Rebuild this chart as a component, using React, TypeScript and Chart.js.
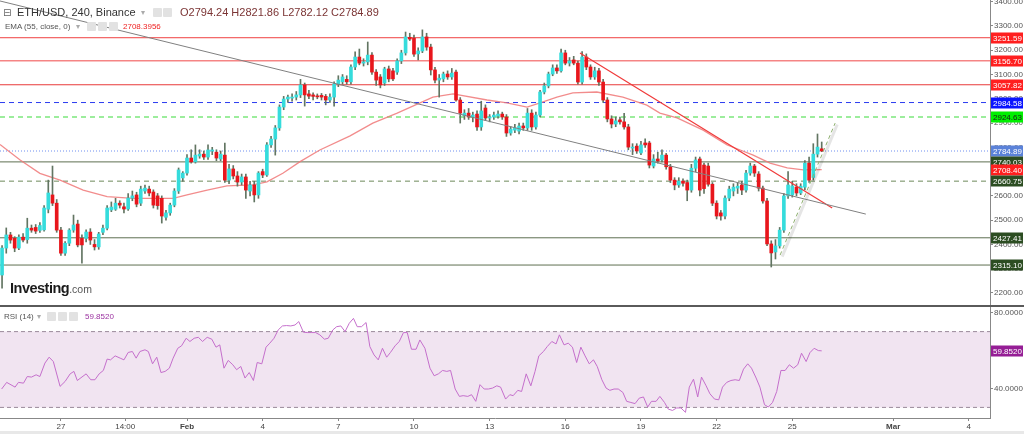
import React, { useEffect, useRef } from 'react';
import { Chart, registerables } from 'chart.js';

Chart.register(...registerables);

const FONT = '"Liberation Sans", Arial, sans-serif';

// ETH/USD 240 (4h) candles, index 0 = Jan 24 16:00, index 44 = Feb 1
const opens = [
  2274, 2385, 2439, 2425, 2385, 2430, 2420, 2467, 2470, 2458,
  2460, 2545, 2604, 2570, 2459, 2364, 2405, 2459, 2484, 2425,
  2425, 2451, 2400, 2390, 2450, 2467, 2542, 2545, 2570, 2555,
  2546, 2591, 2604, 2570, 2620, 2628, 2616, 2600, 2590, 2512,
  2530, 2562, 2620, 2674, 2694, 2756, 2740, 2764, 2772, 2760,
  2785, 2780, 2752, 2768, 2665, 2711, 2682, 2657, 2678, 2620,
  2645, 2604, 2700, 2686, 2810, 2834, 2880, 2966, 2999, 3003,
  3007, 3016, 3057, 3020, 3016, 3012, 3014, 3010, 2995, 3007,
  3061, 3070, 3080, 3070, 3131, 3172, 3147, 3152, 3180, 3110,
  3090, 3065, 3123, 3115, 3110, 3156, 3189, 3253, 3250, 3185,
  3197, 3255, 3213, 3119, 3077, 3082, 3102, 3090, 3110, 2995,
  2930, 2941, 2925, 2937, 2884, 2962, 2921, 2925, 2929, 2937,
  2925, 2859, 2871, 2867, 2888, 2880, 2941, 2884, 2933, 3028,
  3053, 3102, 3127, 3115, 3189, 3147, 3160, 3147, 3069, 3172,
  3131, 3090, 3115, 3069, 2995, 2917, 2896, 2913, 2905, 2884,
  2797, 2805, 2777, 2818, 2818, 2723, 2752, 2748, 2768, 2720,
  2665, 2645, 2661, 2655, 2624, 2714, 2752, 2727, 2723, 2648,
  2570, 2530, 2517, 2591, 2620, 2632, 2645, 2624, 2694, 2723,
  2690, 2632, 2579, 2402, 2369, 2394, 2459, 2600, 2604, 2636,
  2612, 2636, 2735, 2676, 2772, 2794,
];
const highs = [
  2395, 2468, 2450, 2432, 2440, 2445, 2508, 2480, 2482, 2490,
  2560, 2665, 2723, 2585, 2470, 2412, 2465, 2521, 2500, 2440,
  2460, 2465, 2420, 2450, 2480, 2560, 2575, 2590, 2580, 2570,
  2610, 2620, 2615, 2640, 2645, 2640, 2625, 2610, 2600, 2540,
  2570, 2630, 2715, 2700, 2770, 2790, 2810, 2790, 2785, 2810,
  2800, 2790, 2785, 2818, 2730, 2725, 2700, 2690, 2690, 2660,
  2660, 2700, 2710, 2820, 2845, 2890, 2975, 3010, 3015, 3020,
  3030, 3080, 3065, 3035, 3025, 3020, 3022, 3018, 3020, 3070,
  3095, 3100, 3095, 3140, 3193, 3205, 3165, 3234, 3190, 3120,
  3100, 3130, 3135, 3125, 3165, 3200, 3275, 3270, 3262, 3210,
  3284, 3270, 3225, 3130, 3100, 3110, 3115, 3125, 3118, 3005,
  2955, 2960, 2945, 2950, 2990, 2975, 2935, 2945, 2950, 2945,
  2935, 2885, 2895, 2900, 2900, 2960, 2955, 2945, 3035, 3065,
  3110, 3140, 3140, 3205, 3200, 3170, 3175, 3155, 3195, 3185,
  3140, 3130, 3125, 3080, 3005, 2930, 2925, 2925, 2940, 2895,
  2815, 2815, 2825, 2835, 2825, 2770, 2780, 2790, 2775, 2730,
  2675, 2675, 2670, 2665, 2730, 2760, 2760, 2735, 2735, 2655,
  2580, 2540, 2600, 2640, 2650, 2655, 2660, 2705, 2735, 2730,
  2700, 2640, 2590, 2415, 2420, 2470, 2610, 2700, 2660, 2650,
  2650, 2745, 2760, 2815, 2855, 2822,
];
const lows = [
  2220, 2364, 2405, 2370, 2378, 2410, 2405, 2450, 2445, 2450,
  2455, 2530, 2560, 2450, 2355, 2355, 2395, 2450, 2390, 2323,
  2410, 2400, 2377, 2380, 2440, 2460, 2535, 2540, 2550, 2530,
  2540, 2580, 2555, 2560, 2610, 2600, 2550, 2545, 2488, 2500,
  2520, 2555, 2610, 2660, 2685, 2735, 2735, 2755, 2750, 2750,
  2770, 2745, 2745, 2655, 2650, 2670, 2640, 2645, 2590, 2600,
  2575, 2590, 2675, 2680, 2800, 2768, 2870, 2955, 2985, 2990,
  2995, 3005, 2970, 3000, 2995, 3000, 2995, 2975, 2985, 2970,
  3050, 3060, 3060, 3060, 3120, 3140, 3135, 3140, 3100, 3055,
  3045, 3055, 3070, 3075, 3100, 3145, 3180, 3240, 3175, 3160,
  3190, 3200, 3098, 3065, 3007, 3070, 3080, 3080, 2990, 2900,
  2915, 2915, 2905, 2870, 2870, 2910, 2905, 2915, 2920, 2915,
  2845, 2850, 2860, 2855, 2870, 2870, 2870, 2875, 2925, 3020,
  3045, 3095, 3105, 3110, 3140, 3135, 3140, 3060, 3060, 3120,
  3080, 3080, 3055, 2985, 2905, 2880, 2885, 2895, 2875, 2790,
  2770, 2775, 2770, 2800, 2715, 2715, 2735, 2740, 2710, 2655,
  2625, 2635, 2640, 2580, 2615, 2700, 2600, 2610, 2640, 2560,
  2505, 2500, 2505, 2580, 2600, 2610, 2605, 2615, 2685, 2680,
  2620, 2570, 2395, 2307, 2340, 2385, 2450, 2590, 2595, 2600,
  2605, 2625, 2655, 2665, 2760, 2782,
];
const closes = [
  2385, 2439, 2418, 2385, 2430, 2418, 2467, 2459, 2455, 2478,
  2550, 2612, 2570, 2459, 2364, 2405, 2459, 2480, 2398, 2398,
  2451, 2418, 2390, 2443, 2467, 2550, 2554, 2570, 2562, 2546,
  2591, 2600, 2566, 2628, 2632, 2612, 2562, 2560, 2517, 2530,
  2562, 2620, 2707, 2694, 2756, 2740, 2768, 2772, 2760, 2789,
  2789, 2756, 2772, 2665, 2711, 2682, 2657, 2678, 2624, 2645,
  2604, 2694, 2686, 2810, 2834, 2880, 2966, 2999, 3007, 3007,
  3016, 3057, 3016, 3011, 3010, 3008, 3007, 2995, 3007, 3061,
  3077, 3090, 3070, 3131, 3172, 3147, 3152, 3180, 3110, 3077,
  3057, 3123, 3082, 3082, 3156, 3189, 3255, 3246, 3184, 3197,
  3255, 3213, 3119, 3077, 3085, 3102, 3090, 3106, 2995, 2941,
  2941, 2925, 2933, 2884, 2950, 2921, 2925, 2933, 2937, 2925,
  2859, 2875, 2880, 2888, 2880, 2941, 2884, 2933, 3028, 3053,
  3102, 3127, 3115, 3189, 3147, 3156, 3147, 3069, 3172, 3131,
  3090, 3115, 3069, 2995, 2917, 2896, 2909, 2905, 2884, 2801,
  2801, 2785, 2810, 2810, 2727, 2752, 2744, 2768, 2720, 2665,
  2645, 2661, 2652, 2624, 2714, 2748, 2624, 2630, 2648, 2570,
  2517, 2517, 2591, 2628, 2636, 2640, 2624, 2694, 2723, 2694,
  2632, 2579, 2402, 2365, 2394, 2459, 2600, 2645, 2641, 2612,
  2640, 2735, 2665, 2772, 2801, 2785,
];

// EMA(55) (candle index, value)
const emaIdx = [
  -0.49, 4.3, 9.0, 13.8, 19.3, 25.0, 31.2, 35.2, 40.7, 44.0, 48.8, 53.5, 59.7, 63.0,
  66.8, 70.9, 75.6, 82.8, 88.2, 94.0, 102.5, 107.3, 115.4, 120.1, 124.9, 128.0,
  132.0, 135.8, 141.5, 147.7, 153.4, 156.5, 160.6, 166.8, 172.5, 175.6, 178.7,
  182.7, 186.8, 190.6, 195,
];
const emaVal = [
  2812, 2748, 2693, 2665, 2624, 2597, 2590, 2590, 2590, 2604, 2624, 2641, 2645, 2658,
  2693, 2741, 2789, 2847, 2900, 2941, 3007, 3020, 2995, 2983, 2966, 2983,
  3007, 3024, 3028, 3007, 2974, 2941, 2921, 2871, 2810, 2789, 2768,
  2735, 2715, 2707, 2708.4,
];

// RSI(14) (candle index, value)
const rsiIdx = [
  -0.1, 1.1, 3.1, 3.9, 5.1, 6.0, 7.0, 8.1, 9.0, 10.2, 11.2, 12.2, 13.8, 15.0, 16.2, 17.1, 17.9,
  20.0, 21.1, 22.1, 23.1, 24.1, 25.0, 25.8, 26.9, 28.1, 29.0, 30.0, 31.0, 31.9, 32.8, 34.0, 34.8,
  35.8, 36.8, 37.8, 38.8, 39.8, 40.7, 41.8, 42.7, 43.8, 44.7, 45.7, 46.7, 47.7, 48.8, 49.9, 50.9,
  51.8, 52.8, 53.8, 54.9, 55.8, 56.8, 57.8, 58.8, 59.8, 60.7, 61.8, 62.8, 63.7, 64.7, 65.7, 66.7,
  67.7, 68.7, 69.7, 70.6, 71.7, 72.6, 73.7, 74.6, 75.6, 76.7, 77.6, 78.7, 79.6, 80.6, 81.6, 82.6,
  83.6, 84.5, 85.5, 86.6, 87.5, 88.5, 89.5, 90.5, 91.5, 92.4, 93.5, 94.5, 95.5, 96.4, 97.4, 98.5,
  99.4, 100.6, 101.8, 102.8, 103.8, 104.8, 105.8, 106.7, 107.8, 108.8, 109.7, 110.8, 111.7, 112.7,
  113.7, 114.7, 115.7, 116.7, 117.7, 118.6, 119.8, 120.8, 121.6, 122.7, 123.6, 124.7, 125.8, 126.8,
  127.7, 128.8, 129.7, 130.8, 131.8, 132.6, 133.7, 134.7, 135.7, 136.7, 137.7, 138.7, 139.7, 140.7,
  141.6, 142.7, 143.7, 144.6, 145.6, 146.6, 147.7, 148.6, 149.6, 150.6, 151.6, 152.6, 153.6, 154.5,
  155.6, 156.5, 157.6, 158.5, 159.5, 160.5, 161.5, 162.6, 163.5, 164.5, 165.5, 166.4, 167.5, 168.4,
  169.5, 170.5, 171.4, 172.4, 173.4, 174.4, 175.4, 176.4, 177.4, 178.3, 179.4, 180.3, 181.4, 182.3,
  183.3, 184.3, 185.3, 186.3, 187.3, 188.3, 189.3, 190.2, 191.3, 192.2, 193.2, 194.2, 195,
];
const rsiVal = [
  39.7, 43.2, 40.7, 43.2, 42.8, 46.3, 46.0, 47.2, 46.3, 53.4, 56.5, 54.2, 41.1, 43.7, 47.7, 49.0, 44.2,
  47.7, 44.6, 44.6, 47.7, 49.5, 55.5, 55.1, 57.2, 56.0, 55.1, 59.0, 59.5, 56.0, 59.5, 60.4, 59.5,
  53.0, 56.5, 48.4, 49.0, 50.7, 56.0, 61.2, 62.5, 66.5, 64.8, 66.5, 67.0, 64.8, 67.0, 66.0, 61.8,
  63.0, 50.7, 54.8, 52.5, 49.9, 51.6, 45.5, 48.4, 44.2, 53.7, 53.0, 61.8, 63.9, 66.5, 70.9, 73.0,
  73.2, 73.0, 73.5, 75.3, 69.7, 69.5, 69.5, 69.5, 68.3, 66.0, 66.5, 70.9, 72.6, 73.0, 70.0, 74.4,
  77.0, 72.6, 72.6, 74.8, 62.1, 57.7, 55.1, 61.2, 56.5, 59.0, 62.5, 64.8, 69.5, 69.5, 60.7, 60.7,
  65.6, 61.2, 50.7, 46.7, 47.7, 49.5, 49.0, 49.5, 39.7, 35.8, 36.2, 35.8, 36.7, 33.2,
  42.0, 39.7, 39.7, 40.2, 41.4, 40.7, 34.4, 36.7, 36.2, 39.0, 38.4, 47.7, 41.4, 49.0,
  57.2, 59.5, 62.1, 64.8, 63.5, 68.3, 63.0, 63.9, 61.8, 53.7, 61.8, 57.2, 53.0, 55.1,
  51.6, 44.6, 40.2, 39.0, 39.7, 39.7, 37.9, 33.2, 32.6, 32.0, 34.9, 35.5, 30.2, 33.2,
  33.2, 35.8, 32.6, 29.1, 28.4, 29.7, 29.7, 27.4, 40.7, 44.9, 35.5, 46.0, 41.4, 37.2,
  34.4, 34.0, 40.7, 43.2, 44.2, 44.6, 44.2, 50.2, 53.0, 50.7, 45.5, 40.7, 31.4, 30.2,
  32.6, 38.4, 49.5, 49.5, 52.5, 50.7, 52.5, 58.6, 54.2, 58.9, 61.2, 60.0, 59.852,
];

// Horizontal levels
const levelPrices = [3251.59, 3156.7, 3057.82, 2984.58, 2924.63, 2784.89, 2740.03, 2660.75, 2427.41, 2315.1];
const levelColors = ['#f04040', '#f58585', '#e83a3a', '#2b3bf0', '#7ce87c', '#6f8ff0', '#5e7051', '#6d8a5a', '#5e7051', '#5e7051'];
const levelDashes = [[], [], [], [5, 4], [5, 4], [1, 2], [], [5, 4], [], []];
const levelWidths = [1, 1.5, 1, 1, 1.5, 1, 1, 1, 1, 1];

// Trend lines (candle index, price)
const grayTrendIdx = [-0.49, 205.5];
const grayTrendVal = [3403, 2525];
const redTrendIdx = [137.5, 197.5];
const redTrendVal = [3189, 2550];
const channelIdx = [185.1, 198.2];
const channelVal = [2356, 2900];

// Price tags on the right axis
const tagValues = [3251.59, 3156.7, 3057.82, 2984.58, 2924.63, 2784.89, 2740.03, 2708.4, 2660.75, 2427.41, 2315.1];
const tagBg = ['#ff1f1f', '#ff1f1f', '#ff1f1f', '#0a14ff', '#00f000', '#5b82d9', '#2c4d22', '#ff1f1f', '#2c4d22', '#2c4d22', '#2c4d22'];
const tagFg = ['#fff', '#fff', '#fff', '#fff', '#1a1a1a', '#fff', '#fff', '#fff', '#fff', '#fff', '#fff'];

const priceTicks = [2200, 2300, 2400, 2500, 2600, 2700, 2800, 2900, 3000, 3100, 3200, 3300, 3400];
const rsiTicks = [40, 80];
const rsiLast = 59.852;

const xTickIdx = [14, 29.3, 44, 62, 80, 98, 116, 134, 152, 170, 188, 212, 230];
const xTickLabels = ['27', '14:00', 'Feb', '4', '7', '10', '13', '16', '19', '22', '25', 'Mar', '4'];

const X_MIN = -0.49;
const X_MAX = 235.04;
const Y_MIN = 2150.5;
const Y_MAX = 3407;
const RSI_MIN = 24.4;
const RSI_MAX = 83.0;

function tagPlugin(values: number[], bg: string[], fg: string[], digits: number) {
  return {
    id: 'tags' + digits,
    afterDraw(chart: any) {
      const ctx = chart.ctx;
      const y = chart.scales.y;
      const x0 = chart.chartArea.right + 1;
      ctx.save();
      ctx.font = '8px ' + FONT;
      ctx.textBaseline = 'middle';
      ctx.textAlign = 'left';
      values.forEach((v, k) => {
        const py = Math.round(y.getPixelForValue(v));
        ctx.fillStyle = bg[k];
        ctx.fillRect(x0, py - 5.5, 32, 11);
        ctx.fillStyle = fg[k];
        ctx.fillText(v.toFixed(digits), x0 + 2, py + 0.5);
      });
      ctx.restore();
    },
  };
}

export default function App() {
  const mainRef = useRef<HTMLCanvasElement>(null);
  const rsiRef = useRef<HTMLCanvasElement>(null);

  useEffect(() => {
    document.body.style.margin = '0';
    const idx = opens.map((_, i) => i);
    const isUp = idx.map((i) => closes[i] >= opens[i]);

    const lineDs = (xs: number[], ys: number[], color: string, width: number, dash: number[], order: number) => ({
      type: 'line' as const,
      data: xs.map((x, k) => ({ x, y: ys[k] })),
      borderColor: color,
      borderWidth: width,
      borderDash: dash,
      pointRadius: 0,
      tension: 0,
      order,
    });

    const levelSets = levelPrices.map((p, k) =>
      lineDs([X_MIN, X_MAX], [p, p], levelColors[k], levelWidths[k], levelDashes[k], 6)
    );

    const main = new Chart(mainRef.current as HTMLCanvasElement, {
      type: 'bar',
      data: {
        datasets: [
          lineDs(grayTrendIdx, grayTrendVal, '#808080', 1, [], -2),
          lineDs(redTrendIdx, redTrendVal, '#f03a3a', 1.2, [], -2),
          lineDs(channelIdx.map((v) => v + 0.5), channelVal.map((v) => v - 6), 'rgba(0,0,0,0.10)', 3, [], -1),
          lineDs(channelIdx, channelVal, '#8fb070', 1, [4, 3], -3),
          {
            type: 'bar',
            data: idx.map((i) => ({ x: i, y: [opens[i], closes[i]] })),
            backgroundColor: idx.map((i) => (isUp[i] ? '#35dcdc' : '#e8161c')),
            borderWidth: 0,
            barThickness: 3,
            minBarLength: 1,
            grouped: false,
            order: 0,
          } as any,
          {
            type: 'bar',
            data: idx.map((i) => ({ x: i, y: [lows[i], highs[i]] })),
            backgroundColor: '#627562',
            borderWidth: 0,
            barThickness: 1,
            grouped: false,
            order: 1,
          } as any,
          lineDs(emaIdx, emaVal, 'rgba(240,120,120,0.85)', 1.3, [], 3),
          ...levelSets,
        ] as any,
      },
      options: {
        animation: false,
        responsive: false,
        devicePixelRatio: 1,
        layout: { padding: 0 },
        plugins: { legend: { display: false }, tooltip: { enabled: false } },
        scales: {
          x: { type: 'linear', min: X_MIN, max: X_MAX, display: false, offset: false },
          y: {
            type: 'linear',
            position: 'right',
            min: Y_MIN,
            max: Y_MAX,
            afterBuildTicks: (s: any) => {
              s.ticks = priceTicks.map((v) => ({ value: v }));
            },
            afterFit: (s: any) => {
              s.width = 34;
              s.paddingTop = 0;
              s.paddingBottom = 0;
            },
            ticks: {
              autoSkip: false,
              padding: 1,
              color: '#555',
              font: { size: 8, family: FONT },
              callback: (v: any) => Number(v).toFixed(2),
            },
            grid: { drawOnChartArea: false, drawTicks: true, tickLength: 3, color: '#888' },
            border: { display: true, color: '#888', width: 1 },
          },
        },
      } as any,
      plugins: [tagPlugin(tagValues, tagBg, tagFg, 2)],
    });

    const rsi = new Chart(rsiRef.current as HTMLCanvasElement, {
      type: 'line',
      data: {
        datasets: [
          {
            data: rsiIdx.map((x, k) => ({ x, y: rsiVal[k] })),
            borderColor: '#c56fcc',
            borderWidth: 1,
            pointRadius: 0,
            tension: 0,
            order: 0,
          },
          {
            data: [{ x: X_MIN, y: 70 }, { x: X_MAX, y: 70 }],
            borderColor: '#9a8a9a',
            borderDash: [4, 3],
            borderWidth: 1,
            pointRadius: 0,
            fill: { value: 30 },
            backgroundColor: '#f1e4f1',
            order: 2,
          },
          {
            data: [{ x: X_MIN, y: 30 }, { x: X_MAX, y: 30 }],
            borderColor: '#9a8a9a',
            borderDash: [4, 3],
            borderWidth: 1,
            pointRadius: 0,
            order: 1,
          },
        ] as any,
      },
      options: {
        animation: false,
        responsive: false,
        devicePixelRatio: 1,
        layout: { padding: 0 },
        plugins: { legend: { display: false }, tooltip: { enabled: false } },
        scales: {
          x: {
            type: 'linear',
            min: X_MIN,
            max: X_MAX,
            offset: false,
            afterBuildTicks: (s: any) => {
              s.ticks = xTickIdx.map((v) => ({ value: v }));
            },
            afterFit: (s: any) => {
              s.height = 16;
              s.paddingLeft = 0;
              s.paddingRight = 0;
            },
            ticks: {
              autoSkip: false,
              maxRotation: 0,
              padding: 1,
              color: '#444',
              font: (c: any) => ({
                size: 8,
                family: FONT,
                weight: c.tick && (c.tick.label === 'Feb' || c.tick.label === 'Mar') ? 'bold' : 'normal',
              }),
              callback: (_v: any, i: number) => xTickLabels[i],
            },
            grid: { drawOnChartArea: false, drawTicks: true, tickLength: 3, color: '#888' },
            border: { display: true, color: '#888', width: 1 },
          },
          y: {
            type: 'linear',
            position: 'right',
            min: RSI_MIN,
            max: RSI_MAX,
            afterBuildTicks: (s: any) => {
              s.ticks = rsiTicks.map((v) => ({ value: v }));
            },
            afterFit: (s: any) => {
              s.width = 34;
              s.paddingTop = 0;
              s.paddingBottom = 0;
            },
            ticks: {
              autoSkip: false,
              padding: 1,
              color: '#555',
              font: { size: 8, family: FONT },
              callback: (v: any) => Number(v).toFixed(4),
            },
            grid: { drawOnChartArea: false, drawTicks: true, tickLength: 3, color: '#888' },
            border: { display: true, color: '#888', width: 1 },
          },
        },
      } as any,
      plugins: [tagPlugin([rsiLast], ['#951e95'], ['#fff'], 4)],
    });

    return () => {
      main.destroy();
      rsi.destroy();
    };
  }, []);

  const icon = (left: number, top: number) => (
    <span
      key={left}
      style={{ position: 'absolute', left, top, width: 9, height: 9, background: '#e2e2e2', borderRadius: 1 }}
    />
  );

  const small: React.CSSProperties = { position: 'absolute', fontFamily: FONT, fontSize: 8, lineHeight: '11px', whiteSpace: 'nowrap' };
  const big: React.CSSProperties = { position: 'absolute', fontFamily: FONT, fontSize: 11, lineHeight: '13px', whiteSpace: 'nowrap' };

  return (
    <div style={{ position: 'relative', width: 1024, height: 434, overflow: 'hidden', background: '#fff' }}>
      <canvas ref={mainRef} width={1024} height={305} style={{ position: 'absolute', left: 0, top: 0 }} />
      <div style={{ position: 'absolute', left: 0, top: 305, width: 1024, height: 2, background: '#5a5a5a' }} />
      <canvas ref={rsiRef} width={1024} height={127} style={{ position: 'absolute', left: 0, top: 307 }} />
      <div style={{ position: 'absolute', left: 0, top: 431, width: 1024, height: 3, background: '#e8e8e8' }} />

      <span style={{ ...big, left: 3, top: 6, color: '#666', fontFamily: '"DejaVu Sans"', fontSize: 10 }}>⊟</span>
      <span style={{ ...big, left: 17, top: 6, color: '#333' }}>ETH/USD, 240, Binance</span>
      <span style={{ ...small, left: 141, top: 7, color: '#aaa' }}>▾</span>
      {icon(153, 8)}
      {icon(163, 8)}
      <span style={{ ...big, left: 180, top: 6, color: '#7b3434' }}>O2794.24&nbsp;H2821.86&nbsp;L2782.12&nbsp;C2784.89</span>

      <span style={{ ...small, left: 5, top: 21, color: '#555' }}>EMA (55, close, 0)</span>
      <span style={{ ...small, left: 76, top: 21, color: '#aaa' }}>▾</span>
      {icon(87, 22)}
      {icon(98, 22)}
      {icon(109, 22)}
      <span style={{ ...small, left: 123, top: 21, color: '#ee2222' }}>2708.3956</span>

      <span style={{ ...small, left: 4, top: 311, color: '#555' }}>RSI (14)</span>
      <span style={{ ...small, left: 37, top: 311, color: '#aaa' }}>▾</span>
      {icon(47, 312)}
      {icon(58, 312)}
      {icon(69, 312)}
      <span style={{ ...small, left: 85, top: 311, color: '#9b32a0' }}>59.8520</span>

      <span style={{ position: 'absolute', left: 10, top: 280, fontFamily: FONT, fontWeight: 'bold', fontSize: 14.5, letterSpacing: -0.5, color: '#1b1b1b', whiteSpace: 'nowrap' }}>
        Investing<span style={{ fontWeight: 'normal', fontSize: 10.5, color: '#555', letterSpacing: 0 }}>.com</span>
      </span>
    </div>
  );
}
